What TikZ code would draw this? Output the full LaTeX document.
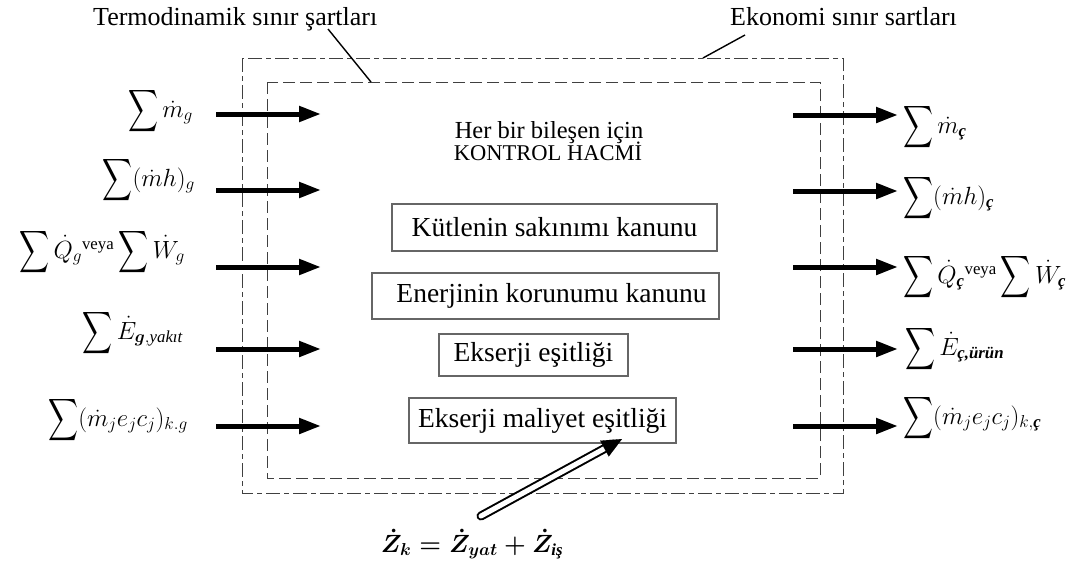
\documentclass[tikz,border=0pt]{standalone}
\usepackage{amsmath,bm,graphicx}
\usepackage{fontspec}
\setmainfont{Liberation Serif}
\usetikzlibrary{arrows.meta,calc}
\newcommand{\Sm}{\mathop{\vcenter{\hbox{\resizebox*{30pt}{47pt}{$\displaystyle\sum$}}}}\nolimits}
\newcommand{\ccd}{\text{\bfseries\itshape ç}}
\begin{document}
\begin{tikzpicture}[x=1pt,y=-1pt,
  outerb/.style={draw=black!75, line width=0.9pt, dash pattern=on 14pt off 4pt on 5pt off 4pt},
  innerb/.style={draw=black!75, line width=0.9pt, dash pattern=on 12pt off 5pt},
  flow/.style={line width=5pt, -{Triangle[length=22pt,width=15pt]}},
  leader/.style={line width=1.4pt},
  title/.style={inner sep=0pt, font=\fontsize{26}{28}\selectfont},
  captxt/.style={inner sep=0pt, font=\fontsize{24.5}{26}\selectfont},
  lawbox/.style={draw=black!60, line width=1.1pt, inner sep=0pt, font=\fontsize{27.5}{30}\selectfont},
  lbl/.style={inner sep=0pt, font=\fontsize{24}{28}\selectfont}]
\useasboundingbox (0,0) rectangle (1072,568);

% boundaries
\draw[outerb] (242,58) rectangle (843,493);
\draw[innerb] (267,82) rectangle (820,478);

% titles and leaders
\node[title, anchor=base west] (tt) at (93,25) {Termodinamik sınır şartları};
\node[title, anchor=base west] (et) at (730,25) {Ekonomi sınır sartları};
\coordinate (ta) at (328,29);
\coordinate (tb) at (371,82);
\coordinate (ea) at (745,35);
\coordinate (eb) at (703,58);
\draw[leader] (ta) -- (tb);
\draw[leader] (ea) -- (eb);

% centre text
\node[captxt, anchor=base] (h1) at (549,138) {Her bir bileşen için};
\node[captxt, anchor=base, font=\fontsize{22.5}{24}\selectfont] (h2) at (548,160) {KONTROL HACMİ};

% law boxes
\node[lawbox, minimum width=325pt, minimum height=47pt] (b1) at (554.5,227.5) {Kütlenin sakınımı kanunu};
\node[lawbox, minimum width=347pt, minimum height=46pt] (b2) at (545.5,296) {\hspace*{12pt}Enerjinin korunumu kanunu};
\node[lawbox, minimum width=189pt, minimum height=42pt] (b3) at (533.5,355) {Ekserji eşitliği};
\node[lawbox, minimum width=267pt, minimum height=45pt] (b4) at (542.5,420.5) {Ekserji maliyet eşitliği};

% left arrows
\foreach \i/\y in {1/114,2/190,3/267,4/349,5/426}{
  \coordinate (ls\i) at (216,\y);
  \coordinate (le\i) at (321,\y);
  \draw[flow] (ls\i) -- (le\i);
}
% right arrows
\foreach \i/\y in {1/115,2/191,3/267,4/349,5/426}{
  \coordinate (rs\i) at (793,\y);
  \coordinate (re\i) at (898,\y);
  \draw[flow] (rs\i) -- (re\i);
}

% left labels
\node[lbl, anchor=east] (L1) at (193,111) {$\Sm \dot m_g$};
\node[lbl, anchor=east] (L2) at (195,180) {$\Sm (\dot m h)_g$};
\node[lbl, anchor=east] (L3) at (185,252) {$\Sm \dot Q_g{}^{\text{veya}} \Sm \dot W_g$};
\node[lbl, anchor=east] (L4) at (183,333) {$\Sm \dot E_{\bm{g},\text{\itshape yakıt}}$};
\node[lbl, anchor=east] (L5) at (188,420) {$\Sm (\dot m_j e_j c_j)_{k.g}$};

% right labels
\node[lbl, anchor=west] (R1) at (903,127) {$\Sm \dot m_{\ccd}$};
\node[lbl, anchor=west] (R2) at (903,198) {$\Sm (\dot m h)_{\ccd}$};
\node[lbl, anchor=west] (R3) at (903,277) {$\Sm \dot Q_{\ccd}{}^{\text{veya}} \Sm \dot W_{\ccd}$};
\node[lbl, anchor=west] (R4) at (905,349) {$\Sm \dot E_{\text{\bfseries\itshape ç,ürün}}$};
\node[lbl, anchor=west] (R5) at (903,418) {$\Sm (\dot m_j e_j c_j)_{k,\ccd}$};

% cost input arrow
\coordinate (zs) at (481,516);
\coordinate (zt) at (622,439);
\draw[line width=2pt, double=white, double distance=5pt, line cap=round] (zs) -- ($(zt)!19pt!(zs)$);
\draw[line width=0.1pt, -{Triangle[length=20pt,width=18pt]}] ($(zt)!20pt!(zs)$) -- (zt);
\node[inner sep=0pt, font=\fontsize{24}{26}\selectfont] (zf) at (472,544)
  {{\boldmath$\dot Z_k = \dot Z_{yat} + \dot Z_{\text{\bfseries\itshape iş}}$}};
\end{tikzpicture}
\end{document}
